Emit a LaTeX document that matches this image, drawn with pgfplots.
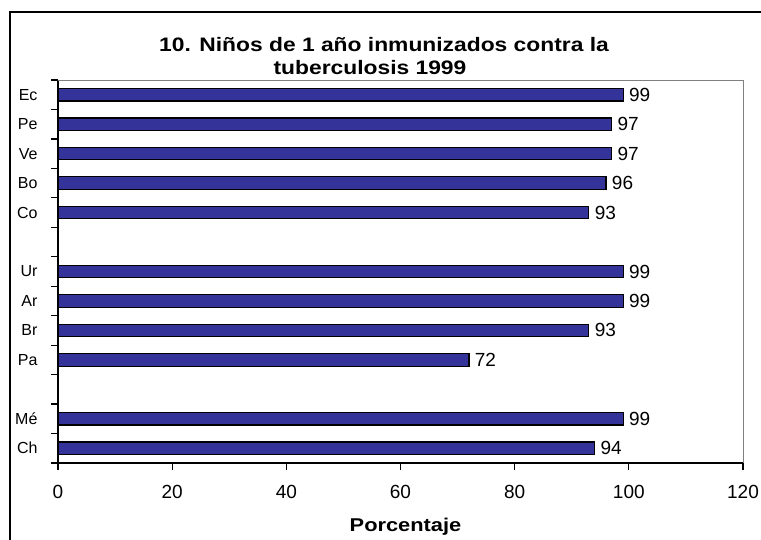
\documentclass[border=0pt]{standalone}
\usepackage{graphicx}
\usepackage{pgfplots}
\pgfplotsset{compat=1.18}
\usepackage{fontspec}
\setmainfont{Liberation Sans}
\definecolor{barblue}{HTML}{333399}
\begin{document}
\begin{tikzpicture}[x=1pt,y=1pt]
\useasboundingbox (0,0) rectangle (761,540);
\draw[line width=1.5pt] (10,-5) -- (10,528) -- (766,528);
\node[font=\bfseries\fontsize{19.5}{21}\selectfont] at (384,495) {\scalebox{1.17}[1]{10. Niños de 1 año inmunizados contra la}};
\node[font=\bfseries\fontsize{19.5}{21}\selectfont] at (370,472) {\scalebox{1.17}[1]{tuberculosis 1999}};
\begin{axis}[
  at={(58pt,77pt)}, anchor=south west,
  scale only axis, width=685pt, height=383pt,
  xbar, bar width=12.5pt,
  xmin=0, xmax=120, ymin=-0.5, ymax=12.5,
  axis x line*=bottom, axis y line*=left,
  axis line style={black, line width=1.2pt},
  xtick={0,20,...,120},
  ytick={-0.5,0.5,...,12.5}, yticklabels={},
  extra y ticks={0,1,3,4,5,6,8,9,10,11,12},
  extra y tick labels={Ch,Mé,Pa,Br,Ar,Ur,Co,Bo,Ve,Pe,Ec},
  extra y tick style={major tick length=0pt, yticklabel style={xshift=-17pt, font=\fontsize{16}{18}\selectfont}},
  tick align=outside, major tick length=7pt,
  tick style={black, line width=1.2pt},
  /pgf/number format/assume math mode=true,
  xticklabel style={font=\fontsize{19}{21}\selectfont, yshift=-12pt},
  xlabel={\scalebox{1.18}[1]{\textbf{Porcentaje}}},
  xlabel style={font=\fontsize{18.5}{20}\selectfont, at={(axis description cs:0.5,0)}, anchor=center, yshift=-64pt, xshift=5pt},
  nodes near coords,
  every node near coord/.append style={font=\fontsize{19}{21}\selectfont, xshift=2pt},
  clip=false,
]
\draw[gray, line width=0.8pt] (rel axis cs:0,1) -- (rel axis cs:1,1) -- (rel axis cs:1,0);
\addplot[fill=barblue, draw=black, line width=1.2pt] coordinates {
 (94,0) (99,1) (72,3) (93,4) (99,5) (99,6) (93,8) (96,9) (97,10) (97,11) (99,12)
};
\end{axis}
\end{tikzpicture}
\end{document}
